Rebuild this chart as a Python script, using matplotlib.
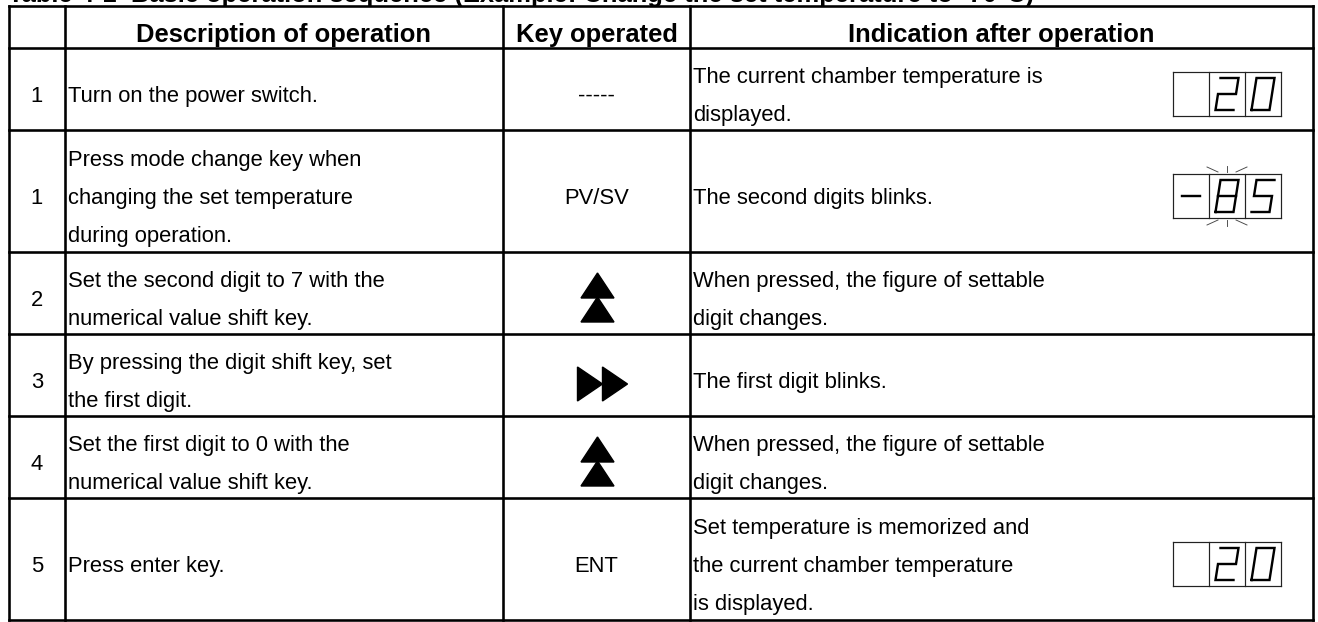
import matplotlib.pyplot as plt
from matplotlib.patches import Polygon

plt.rcParams['font.family'] = ['Liberation Sans', 'DejaVu Sans']

# ---- table content ----
title = "Table 4-1  Basic operation sequence (Example: Change the set temperature to -70°C)"
headers = ["", "Description of operation", "Key operated", "Indication after operation"]
step_numbers = ["1", "1", "2", "3", "4", "5"]
descriptions = [
    ["Turn on the power switch."],
    ["Press mode change key when", "changing the set temperature", "during operation."],
    ["Set the second digit to 7 with the", "numerical value shift key."],
    ["By pressing the digit shift key, set", "the first digit."],
    ["Set the first digit to 0 with the", "numerical value shift key."],
    ["Press enter key."],
]
keys = ["-----", "PV/SV", "UP", "SHIFT", "UP", "ENT"]
indications = [
    ["The current chamber temperature is", "displayed."],
    ["The second digits blinks."],
    ["When pressed, the figure of settable", "digit changes."],
    ["The first digit blinks."],
    ["When pressed, the figure of settable", "digit changes."],
    ["Set temperature is memorized and", "the current chamber temperature", "is displayed."],
]
display_values = [" 20", "-85", None, None, None, " 20"]
blinking_digit = [None, 1, None, None, None, None]

# ---- layout (pixels) ----
W, H = 1318, 622
PT = 0.72                      # points per pixel at dpi 100
col_x = [9, 65, 503, 690, 1313]
top, header_bottom = 6, 48
row_per_line = 40
line_pitch = 38
font_px = 22
head_px = 25.5
fs = font_px * PT

fig = plt.figure(figsize=(W / 100, H / 100), dpi=100)
ax = fig.add_axes([0, 0, 1, 1])
ax.set_xlim(0, W)
ax.set_ylim(H, 0)
ax.axis('off')

# row boundaries from the number of text lines in each row
row_y = [header_bottom]
for d, ind in zip(descriptions, indications):
    n = max(len(d), len(ind))
    row_y.append(row_y[-1] + n * row_per_line + 2)

# title (cut off at the top edge of the picture)
ax.text(8, 2, title, fontsize=head_px * PT, fontweight='bold', ha='left', va='baseline')

# grid lines
lw = 2.6 * PT
for x in col_x:
    ax.plot([x, x], [top, row_y[-1]], color='black', lw=lw, solid_capstyle='projecting')
for y in [top] + row_y:
    ax.plot([col_x[0], col_x[-1]], [y, y], color='black', lw=lw, solid_capstyle='projecting')

# header
for i, h in enumerate(headers):
    if h:
        cx = (col_x[i] + col_x[i + 1]) / 2
        ax.text(cx, 42, h, fontsize=head_px * PT, fontweight='bold', ha='center', va='baseline')

cap_half = 0.716 * font_px / 2


def text_block(x, y_mid, lines, ha='left'):
    n = len(lines)
    for k, line in enumerate(lines):
        yb = y_mid + cap_half + (k - (n - 1) / 2) * line_pitch
        ax.text(x, yb, line, fontsize=fs, ha=ha, va='baseline')


SEGMENTS = {
    '0': [[(0, 0), (1, 0), (1, 1), (0, 1), (0, 0)]],
    '2': [[(0, 1), (1, 1), (1, .5), (0, .5), (0, 0), (1, 0)]],
    '5': [[(1, 1), (0, 1), (0, .5), (1, .5), (1, 0), (0, 0)]],
    '8': [[(0, 0), (1, 0), (1, 1), (0, 1), (0, 0)], [(0, .5), (1, .5)]],
    '-': [[(0, .5), (1, .5)]],
    ' ': [],
}


def draw_display(x0, yc, value, blink):
    cw, bh = 36, 44
    yt, yb = yc - bh / 2, yc + bh / 2
    for k in range(4):
        ax.plot([x0 + k * cw, x0 + k * cw], [yt, yb], color='#222222', lw=1.2 * PT)
    for y in (yt, yb):
        ax.plot([x0, x0 + 3 * cw], [y, y], color='#222222', lw=1.2 * PT)
    gw, gh, sl = 18, 32, 5
    for k, ch in enumerate(value):
        gx = x0 + k * cw + cw / 2 - (gw + sl) / 2
        gy = yb - (bh - gh) / 2
        for path in SEGMENTS[ch]:
            xs = [gx + u * gw + v * sl for u, v in path]
            ys = [gy - v * gh for u, v in path]
            ax.plot(xs, ys, color='black', lw=2.4 * PT, solid_joinstyle='miter')
    if blink is not None:
        cx = x0 + blink * cw + cw / 2
        for sgn, ye in ((-1, yt), (1, yb)):
            y1, y2 = ye + sgn * 2, ye + sgn * 8
            ax.plot([cx, cx], [y1, y2], color='#444444', lw=0.9 * PT)
            ax.plot([cx - 9, cx - 20], [y1, y2 - sgn * 1], color='#444444', lw=0.9 * PT)
            ax.plot([cx + 9, cx + 20], [y1, y2 - sgn * 1], color='#444444', lw=0.9 * PT)


def draw_up_key(cx, cy):
    for dy in (0, 24):
        ax.add_patch(Polygon([(cx, cy - 25 + dy), (cx - 16.5, cy + dy), (cx + 16.5, cy + dy)],
                             closed=True, color='black'))


def draw_shift_key(cx, cy):
    for dx in (0, 25):
        ax.add_patch(Polygon([(cx - 25 + dx, cy - 17), (cx - 25 + dx, cy + 17), (cx + dx, cy)],
                             closed=True, color='black'))


for r in range(len(step_numbers)):
    y0, y1 = row_y[r], row_y[r + 1]
    ym = (y0 + y1) / 2 + 5
    text_block((col_x[0] + col_x[1]) / 2, ym, [step_numbers[r]], ha='center')
    text_block(col_x[1] + 3, ym, descriptions[r])
    kx = (col_x[2] + col_x[3]) / 2
    if keys[r] == 'UP':
        draw_up_key(kx + 1, ym)
    elif keys[r] == 'SHIFT':
        draw_shift_key(kx + 6, ym + 4)
    else:
        text_block(kx, ym, [keys[r]], ha='center')
    text_block(col_x[3] + 3, ym, indications[r])
    if display_values[r]:
        draw_display(1173, ym, display_values[r], blinking_digit[r])

fig.savefig('out.png', dpi=100)
